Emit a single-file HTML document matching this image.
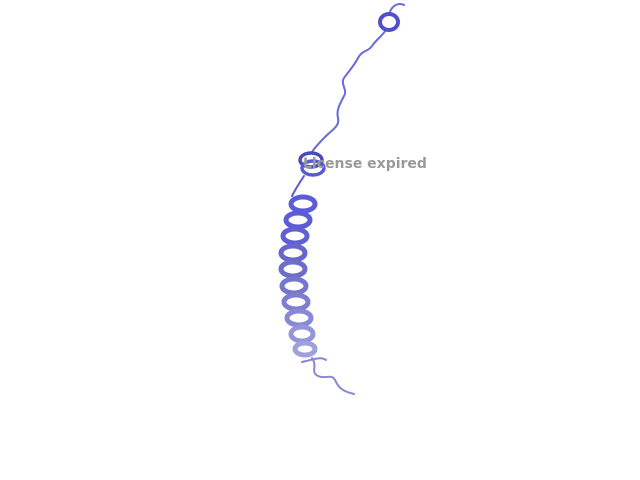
<!DOCTYPE html>
<html><head><meta charset="utf-8"><style>
html,body{margin:0;padding:0;background:#fff;width:640px;height:480px;overflow:hidden}
svg{display:block}
</style></head><body>
<svg width="640" height="480" viewBox="0 0 640 480">
<g fill="none" stroke-linecap="round" stroke-linejoin="round">
<path d="M404,5 C398,2 392,6 390,12 M386,30 C382,36 376,40 372,46 C368,52 362,50 358,58 C354,66 348,72 344,78 C340,84 348,90 344,96 C340,104 336,110 338,118 C340,126 332,130 326,136 C320,142 316,146 312,152" stroke="#6a6ad8" stroke-width="2"/>
<ellipse cx="389" cy="22" rx="9" ry="8" stroke="#5050c8" stroke-width="4"/>
<ellipse cx="311" cy="160" rx="11" ry="7" stroke="#4848c0" stroke-width="3.5"/>
<ellipse cx="313" cy="168" rx="11" ry="7" stroke="#5a5ad0" stroke-width="3.5"/>
<path d="M304,176 C300,182 296,188 292,196" stroke="#5a5ad0" stroke-width="2"/>
<g stroke-width="5">
<ellipse cx="303" cy="204" rx="12" ry="7" stroke="#5c5cd8"/>
<ellipse cx="298" cy="220" rx="12" ry="7" stroke="#5c5cd4"/>
<ellipse cx="295" cy="236" rx="12" ry="7" stroke="#6060d0"/>
<ellipse cx="293" cy="253" rx="12" ry="7" stroke="#6666cc"/>
<ellipse cx="293" cy="269" rx="12" ry="7" stroke="#6e6ec8"/>
<ellipse cx="294" cy="286" rx="12" ry="7" stroke="#7676cc"/>
<ellipse cx="296" cy="302" rx="12" ry="7" stroke="#7e7ed0"/>
<ellipse cx="299" cy="318" rx="12" ry="7" stroke="#8888d4"/>
<ellipse cx="302" cy="334" rx="11" ry="7" stroke="#9494d8"/>
<ellipse cx="305" cy="349" rx="10" ry="6" stroke="#a0a0dc"/>
</g>
<path d="M302,362 C312,360 320,356 326,360 M312,358 C318,366 310,372 318,376 C326,380 332,372 336,382 C340,390 346,392 354,394" stroke="#8888d4" stroke-width="2"/>
</g>
<text x="303" y="168" font-family="'DejaVu Sans', 'Liberation Sans', sans-serif" font-weight="bold" font-size="14" fill="#999">License expired</text>
</svg>
</body></html>
